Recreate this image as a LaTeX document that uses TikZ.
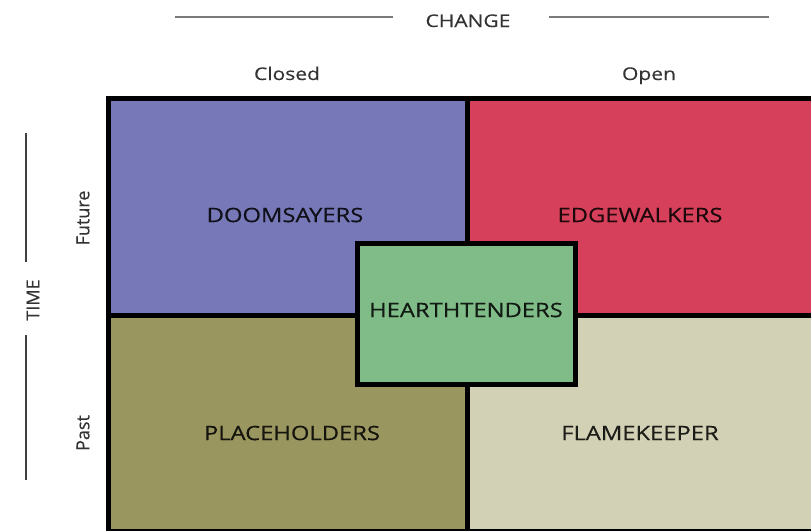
\documentclass[tikz,border=0pt]{standalone}
\usepackage{fontspec}
\setmainfont{Open Sans}[FakeStretch=1.2,FakeBold=0.4]
\newfontfamily\vertfont{Open Sans}[FakeBold=0.4]
\definecolor{doom}{HTML}{7778B8}
\definecolor{edge}{HTML}{D6405A}
\definecolor{place}{HTML}{9A9660}
\definecolor{flame}{HTML}{D3D1B5}
\definecolor{hearth}{HTML}{80BC88}
\definecolor{rulegray}{HTML}{7A7A7A}
\begin{document}
\begin{tikzpicture}[x=1pt,y=-1pt,
  qlabel/.style={font=\fontsize{19.8}{19.8}\selectfont,text opacity=0.85,inner sep=0pt},
  axislabel/.style={font=\fontsize{17.5}{17.5}\selectfont,text=black!80,inner sep=0pt,anchor=base},
  vlabel/.style={font=\vertfont\fontsize{18}{18}\selectfont,text=black!80,inner sep=0pt,rotate=90},
  axisrule/.style={draw=rulegray,line width=1.6pt}]
\useasboundingbox (0,0) rectangle (811,531);
% quadrants
\fill[doom] (106,98) rectangle (467,315);
\fill[edge] (467,98) rectangle (815,315);
\fill[place] (106,315) rectangle (467,529);
\fill[flame] (467,315) rectangle (815,529);
\draw[line width=5pt] (106,98) -- (815,98);
\draw[line width=5pt] (108.5,96) -- (108.5,529);
\draw[line width=5pt] (467,96) -- (467,531);
\draw[line width=5pt] (106,315) -- (815,315);
\draw[line width=2pt] (106,529.5) -- (815,529.5);
% hearthtenders box
\node[fill=hearth,draw=black,line width=5pt,minimum width=218pt,minimum height=141pt,inner sep=0pt] (hearth) at (466,314) {};
\node[qlabel] (hl) at (466,310) {HEARTHTENDERS};
% labels
\node[qlabel] (doomL) at (285,215) {DOOMSAYERS};
\node[qlabel] (edgeL) at (640,215) {EDGEWALKERS};
\node[qlabel] (placeL) at (292,433) {PLACEHOLDERS};
\node[qlabel] (flameL) at (640,433) {FLAMEKEEPER};
% top axis
\node[axislabel] (change) at (468,27) {CHANGE};
\coordinate (c1) at (175,17);
\coordinate (c2) at (393,17);
\coordinate (c3) at (549,17);
\coordinate (c4) at (769,17);
\draw[axisrule] (c1) -- (c2);
\draw[axisrule] (c3) -- (c4);
\node[axislabel] (closed) at (287,80) {Closed};
\node[axislabel] (open) at (649,80) {Open};
% left axis
\node[vlabel] (time) at (33,300) {TIME};
\coordinate (t1) at (26,133);
\coordinate (t2) at (26,262);
\coordinate (t3) at (26,335);
\coordinate (t4) at (26,480);
\draw[axisrule,draw=black!75] (t1) -- (t2);
\draw[axisrule,draw=black!75] (t3) -- (t4);
\node[vlabel] (future) at (83,218) {Future};
\node[vlabel] (past) at (83,433) {Past};
\end{tikzpicture}
\end{document}
